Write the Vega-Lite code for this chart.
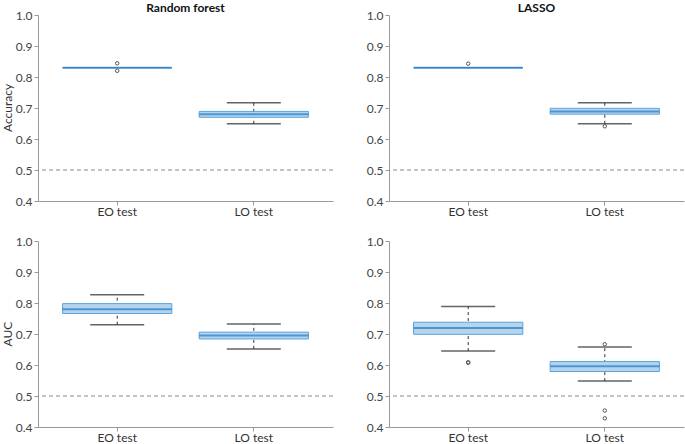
{
  "$schema": "https://vega.github.io/schema/vega-lite/v6.json",
  "padding": {"left": 1, "top": 2, "right": 0, "bottom": 0},
  "data": {"values": [
    {"kind": "box", "model": "Random forest", "metric": "Accuracy", "group": "EO test", "lo": 0.830, "q1": 0.830, "med": 0.830, "q3": 0.830, "hi": 0.830},
    {"kind": "box", "model": "Random forest", "metric": "Accuracy", "group": "LO test", "lo": 0.649, "q1": 0.670, "med": 0.680, "q3": 0.689, "hi": 0.717},
    {"kind": "box", "model": "LASSO", "metric": "Accuracy", "group": "EO test", "lo": 0.830, "q1": 0.830, "med": 0.830, "q3": 0.830, "hi": 0.830},
    {"kind": "box", "model": "LASSO", "metric": "Accuracy", "group": "LO test", "lo": 0.649, "q1": 0.680, "med": 0.689, "q3": 0.699, "hi": 0.717},
    {"kind": "box", "model": "Random forest", "metric": "AUC", "group": "EO test", "lo": 0.730, "q1": 0.766, "med": 0.780, "q3": 0.798, "hi": 0.827},
    {"kind": "box", "model": "Random forest", "metric": "AUC", "group": "LO test", "lo": 0.652, "q1": 0.684, "med": 0.695, "q3": 0.706, "hi": 0.732},
    {"kind": "box", "model": "LASSO", "metric": "AUC", "group": "EO test", "lo": 0.645, "q1": 0.699, "med": 0.719, "q3": 0.738, "hi": 0.789},
    {"kind": "box", "model": "LASSO", "metric": "AUC", "group": "LO test", "lo": 0.548, "q1": 0.579, "med": 0.596, "q3": 0.611, "hi": 0.658},
    {"kind": "out", "model": "Random forest", "metric": "Accuracy", "group": "EO test", "value": 0.844},
    {"kind": "out", "model": "Random forest", "metric": "Accuracy", "group": "EO test", "value": 0.820},
    {"kind": "out", "model": "LASSO", "metric": "Accuracy", "group": "EO test", "value": 0.843},
    {"kind": "out", "model": "LASSO", "metric": "Accuracy", "group": "LO test", "value": 0.641},
    {"kind": "out", "model": "LASSO", "metric": "AUC", "group": "EO test", "value": 0.607},
    {"kind": "out", "model": "LASSO", "metric": "AUC", "group": "EO test", "value": 0.609},
    {"kind": "out", "model": "LASSO", "metric": "AUC", "group": "LO test", "value": 0.667},
    {"kind": "out", "model": "LASSO", "metric": "AUC", "group": "LO test", "value": 0.453},
    {"kind": "out", "model": "LASSO", "metric": "AUC", "group": "LO test", "value": 0.428}
  ]},
  "facet": {
    "row": {"field": "metric", "type": "nominal", "sort": ["Accuracy", "AUC"],
      "header": {"title": null, "labelAngle": -90, "labelOrient": "left", "labelFont": "Lato", "labelFontSize": 12, "labelColor": "#333", "labelPadding": -5}},
    "column": {"field": "model", "type": "nominal", "sort": ["Random forest", "LASSO"],
      "header": {"title": null, "labelFont": "Lato", "labelFontWeight": "bold", "labelFontSize": 12, "labelColor": "#111", "labelPadding": -6, "labelBaseline": "top"}}
  },
  "spacing": {"row": 18, "column": 32},
  "resolve": {"axis": {"x": "independent", "y": "independent"}},
  "spec": {
    "width": 295,
    "height": 186,
    "encoding": {
      "x": {"field": "group", "type": "nominal", "sort": ["EO test", "LO test"],
        "scale": {"paddingInner": 0.2, "paddingOuter": 0.18},
        "axis": {"title": null, "labelAngle": 0, "bandPosition": 0.5, "labelFont": "Lato", "labelFontSize": 12, "labelColor": "#333", "domainColor": "#999", "tickColor": "#999", "tickSize": 4, "labelPadding": 1}},
      "y": {"type": "quantitative",
        "scale": {"domain": [0.4, 1.0], "nice": false, "zero": false},
        "axis": {"title": null, "values": [0.4, 0.5, 0.6, 0.7, 0.8, 0.9, 1.0], "format": ".1f", "grid": false, "labelOverlap": false, "labelFont": "Lato", "labelFontSize": 12, "labelColor": "#444", "domainColor": "#999", "tickColor": "#999", "tickSize": 4, "labelPadding": 2}}
    },
    "layer": [
      {
        "transform": [{"filter": "datum.kind == 'box' && datum.group == 'EO test'"}],
        "mark": {"type": "rule", "color": "#888", "strokeDash": [4, 3], "strokeWidth": 1},
        "encoding": {"x": null, "y": {"datum": 0.5, "type": "quantitative", "axis": {"title": null, "values": [0.4, 0.5, 0.6, 0.7, 0.8, 0.9, 1.0], "format": ".1f", "grid": false, "labelOverlap": false, "labelFont": "Lato", "labelFontSize": 12, "labelColor": "#444", "domainColor": "#999", "tickColor": "#999", "tickSize": 4, "labelPadding": 2}}}
      },
      {
        "transform": [{"filter": "datum.kind == 'box'"}],
        "mark": {"type": "rule", "color": "#333", "strokeDash": [3, 3], "strokeWidth": 1},
        "encoding": {"y": {"field": "lo", "type": "quantitative"}, "y2": {"field": "hi"}}
      },
      {
        "transform": [{"filter": "datum.kind == 'box' && datum.hi > datum.lo"}],
        "mark": {"type": "tick", "color": "#222", "size": 54, "thickness": 1.5},
        "encoding": {"y": {"field": "lo", "type": "quantitative"}}
      },
      {
        "transform": [{"filter": "datum.kind == 'box' && datum.hi > datum.lo"}],
        "mark": {"type": "tick", "color": "#222", "size": 54, "thickness": 1.5},
        "encoding": {"y": {"field": "hi", "type": "quantitative"}}
      },
      {
        "transform": [{"filter": "datum.kind == 'box'"}],
        "mark": {"type": "bar", "fill": "#b5d5ef", "stroke": "#5ba3db", "strokeWidth": 1},
        "encoding": {"y": {"field": "q1", "type": "quantitative"}, "y2": {"field": "q3"}}
      },
      {
        "transform": [{"filter": "datum.kind == 'box'"}],
        "mark": {"type": "tick", "color": "#2277c0", "size": 109, "thickness": 2},
        "encoding": {"y": {"field": "med", "type": "quantitative"}}
      },
      {
        "transform": [{"filter": "datum.kind == 'out'"}],
        "mark": {"type": "point", "shape": "circle", "filled": false, "size": 12, "color": "#555", "strokeWidth": 1, "opacity": 1},
        "encoding": {"y": {"field": "value", "type": "quantitative"}}
      }
    ]
  },
  "config": {"view": {"stroke": null}}
}
